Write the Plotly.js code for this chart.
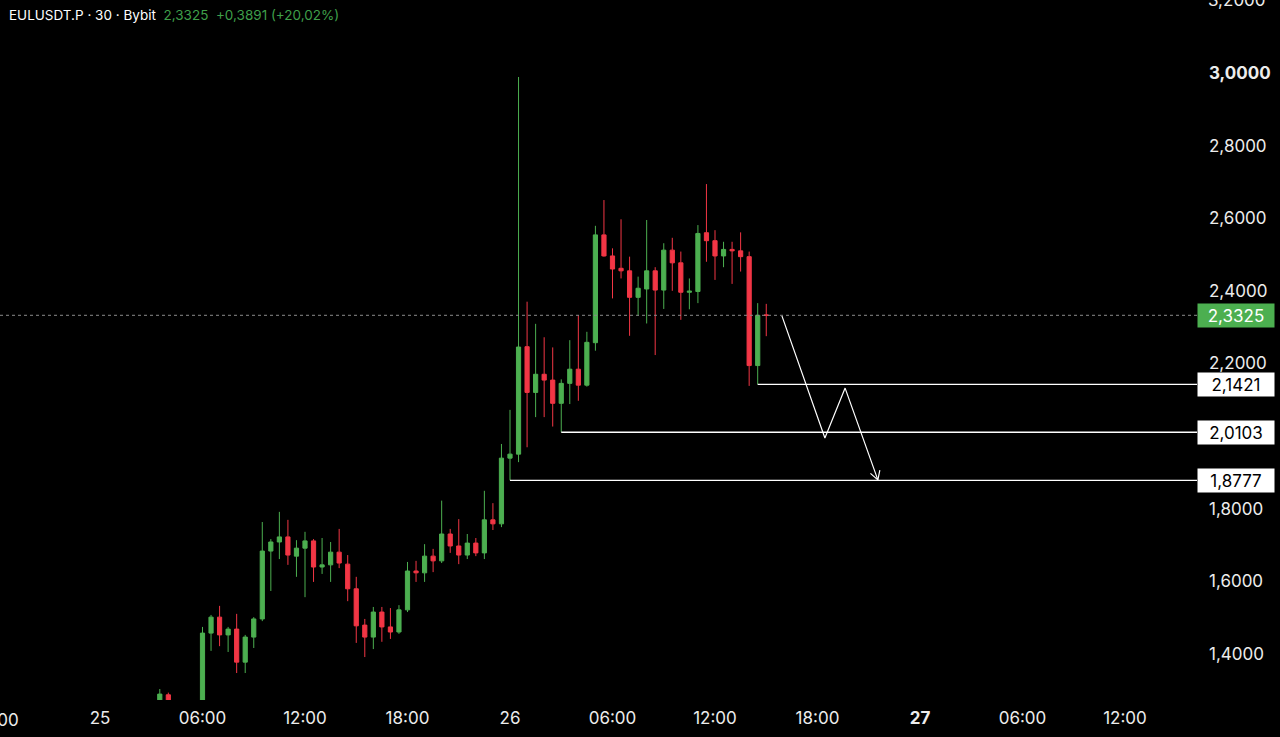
<!DOCTYPE html>
<html>
<head>
<meta charset="utf-8">
<script src="https://cdn.plot.ly/plotly-3.0.1.min.js"></script>
<style>
  html, body { margin: 0; padding: 0; background: #000; }
  #chart { width: 1280px; height: 737px; }
</style>
</head>
<body>
<div id="chart"></div>
<script>
// ---- Candle data (30-minute, EULUSDT.P on Bybit) ----
const candleTimes = [
  '2025-05-25 03:30','2025-05-25 04:00',
  '2025-05-25 06:00','2025-05-25 06:30','2025-05-25 07:00','2025-05-25 07:30','2025-05-25 08:00','2025-05-25 08:30',
  '2025-05-25 09:00','2025-05-25 09:30','2025-05-25 10:00','2025-05-25 10:30','2025-05-25 11:00','2025-05-25 11:30',
  '2025-05-25 12:00','2025-05-25 12:30','2025-05-25 13:00','2025-05-25 13:30','2025-05-25 14:00','2025-05-25 14:30',
  '2025-05-25 15:00','2025-05-25 15:30','2025-05-25 16:00','2025-05-25 16:30','2025-05-25 17:00','2025-05-25 17:30',
  '2025-05-25 18:00','2025-05-25 18:30','2025-05-25 19:00','2025-05-25 19:30','2025-05-25 20:00','2025-05-25 20:30',
  '2025-05-25 21:00','2025-05-25 21:30','2025-05-25 22:00','2025-05-25 22:30','2025-05-25 23:00','2025-05-25 23:30',
  '2025-05-26 00:00','2025-05-26 00:30','2025-05-26 01:00','2025-05-26 01:30','2025-05-26 02:00','2025-05-26 02:30',
  '2025-05-26 03:00','2025-05-26 03:30','2025-05-26 04:00','2025-05-26 04:30','2025-05-26 05:00','2025-05-26 05:30',
  '2025-05-26 06:00','2025-05-26 06:30','2025-05-26 07:00','2025-05-26 07:30','2025-05-26 08:00','2025-05-26 08:30',
  '2025-05-26 09:00','2025-05-26 09:30','2025-05-26 10:00','2025-05-26 10:30','2025-05-26 11:00','2025-05-26 11:30',
  '2025-05-26 12:00','2025-05-26 12:30','2025-05-26 13:00','2025-05-26 13:30','2025-05-26 14:00','2025-05-26 14:30',
  '2025-05-26 15:00'
];
const openPrices = [
  1.262,1.287,
  1.250,1.457,1.501,1.452,1.468,1.377,
  1.446,1.496,1.683,1.708,1.722,1.669,
  1.691,1.711,1.639,1.645,1.680,1.647,
  1.579,1.479,1.446,1.515,1.474,1.460,
  1.521,1.628,1.623,1.669,1.656,1.730,
  1.697,1.672,1.705,1.678,1.769,1.758,
  1.939,1.950,2.246,2.120,2.170,2.154,
  2.090,2.145,2.184,2.140,2.257,2.554,
  2.496,2.462,2.455,2.382,2.405,2.455,
  2.402,2.512,2.477,2.396,2.398,2.560,
  2.538,2.496,2.514,2.510,2.494,2.194,
  2.3335
];
const highPrices = [
  1.303,1.293,
  1.474,1.507,1.532,1.474,1.510,1.452,
  1.501,1.763,1.716,1.791,1.769,1.713,
  1.736,1.716,1.719,1.708,1.744,1.672,
  1.612,1.496,1.529,1.529,1.526,1.534,
  1.653,1.656,1.702,1.689,1.822,1.744,
  1.771,1.730,1.719,1.849,1.815,1.978,
  2.072,2.989,2.370,2.309,2.272,2.244,
  2.156,2.264,2.333,2.287,2.579,2.650,
  2.517,2.597,2.494,2.439,2.595,2.465,
  2.531,2.546,2.508,2.434,2.581,2.694,
  2.567,2.535,2.535,2.561,2.508,2.366,
  2.364
];
const lowPrices = [
  1.240,1.240,
  1.240,1.408,1.421,1.405,1.347,1.347,
  1.416,1.490,1.573,1.661,1.645,1.612,
  1.556,1.598,1.620,1.598,1.636,1.545,
  1.430,1.391,1.413,1.433,1.441,1.455,
  1.515,1.598,1.598,1.625,1.650,1.678,
  1.647,1.661,1.669,1.661,1.741,1.749,
  1.8777,1.928,1.969,2.052,2.052,2.026,
  2.0103,2.088,2.097,2.136,2.235,2.494,
  2.379,2.434,2.276,2.331,2.310,2.223,
  2.350,2.400,2.320,2.349,2.366,2.480,
  2.430,2.465,2.419,2.453,2.138,2.1421,
  2.275
];
const closePrices = [
  1.289,1.260,
  1.457,1.501,1.452,1.468,1.377,1.446,
  1.496,1.683,1.708,1.722,1.672,1.691,
  1.711,1.639,1.645,1.680,1.650,1.579,
  1.477,1.446,1.515,1.474,1.460,1.521,
  1.628,1.623,1.669,1.656,1.730,1.697,
  1.672,1.705,1.678,1.769,1.758,1.939,
  1.950,2.245,2.120,2.170,2.154,2.090,
  2.145,2.184,2.140,2.258,2.554,2.496,
  2.460,2.455,2.382,2.407,2.455,2.402,
  2.512,2.477,2.396,2.399,2.558,2.538,
  2.496,2.514,2.510,2.494,2.194,2.3325,
  2.3325
];

// ---- Horizontal levels drawn on the chart ----
const levelPrices = [2.1421, 2.0103, 1.8777];
const levelLabels = ['2,1421', '2,0103', '1,8777'];
const levelStarts = ['2025-05-26 14:30', '2025-05-26 03:00', '2025-05-26 00:00'];

const lastPrice = 2.3325;
const lastPriceLabel = '2,3325';

// ---- Projected path drawing (zig-zag arrow) ----
const pathTimes  = ['2025-05-26 15:55', '2025-05-26 18:26', '2025-05-26 19:37', '2025-05-26 21:32'];
const pathPrices = [2.331, 1.9945, 2.132, 1.879];
const arrowTimes  = ['2025-05-26 21:06', '2025-05-26 21:32', '2025-05-26 21:39'];
const arrowPrices = [1.897, 1.879, 1.906];

// ---- Axis ticks (2,0000 is hidden behind the 2,0103 label in the reference) ----
const yTickVals = [1.4, 1.6, 1.8, 2.2, 2.4, 2.6, 2.8, 3.0];
const yTickText = ['1,4000','1,6000','1,8000','2,2000','2,4000','2,6000','2,8000','<b>3,0000</b>'];
const topTickVal = 3.2;
const topTickText = '3,2000';
const xTickVals = ['2025-05-25 00:00','2025-05-25 06:00','2025-05-25 12:00','2025-05-25 18:00',
                   '2025-05-26 00:00','2025-05-26 06:00','2025-05-26 12:00','2025-05-26 18:00',
                   '2025-05-27 00:00','2025-05-27 06:00','2025-05-27 12:00'];
const xTickText = ['25','06:00','12:00','18:00','26','06:00','12:00','18:00','<b>27</b>','06:00','12:00'];
const clippedTickTime = '2025-05-24 18:00';
const clippedTickText = '18:00';

const xRange = ['2025-05-24 18:08:47', '2025-05-27 16:12:54'];
const yRange = [1.2727, 3.2011];

const GREEN = '#4caf50';
const RED = '#f23645';
const TXT = '#ececec';
const FONT = 'Inter, "Noto Sans", sans-serif';

const traces = [
  {
    type: 'candlestick',
    x: candleTimes, open: openPrices, high: highPrices, low: lowPrices, close: closePrices,
    increasing: { line: { color: GREEN, width: 1 }, fillcolor: GREEN },
    decreasing: { line: { color: RED, width: 1 }, fillcolor: RED },
    whiskerwidth: 0,
    hoverinfo: 'skip',
    showlegend: false
  },
  {
    type: 'scatter', mode: 'lines', x: pathTimes, y: pathPrices,
    line: { color: '#ffffff', width: 1.2 }, hoverinfo: 'skip', showlegend: false
  },
  {
    type: 'scatter', mode: 'lines', x: arrowTimes, y: arrowPrices,
    line: { color: '#ffffff', width: 1.2 }, hoverinfo: 'skip', showlegend: false
  }
];

const shapes = [
  { type: 'line', xref: 'paper', yref: 'y', x0: 0, x1: 1, y0: lastPrice, y1: lastPrice,
    line: { color: '#8a8a8a', width: 1, dash: 'dot' } }
];
levelPrices.forEach((p, i) => {
  shapes.push({ type: 'line', xref: 'x', yref: 'y', x0: levelStarts[i], x1: xRange[1], y0: p, y1: p,
    line: { color: '#ffffff', width: 1.3 } });
});

const annotations = [
  {
    xref: 'paper', yref: 'paper', x: 0, y: 1, xanchor: 'left', yanchor: 'top', xshift: 7, yshift: -5,
    showarrow: false, align: 'left',
    text: 'EULUSDT.P · 30 · Bybit  <span style="color:#3f9f4a">2,3325  +0,3891 (+20,02%)</span>',
    font: { family: FONT, size: 13.5, color: '#ffffff' }
  },
  {
    xref: 'paper', yref: 'y', x: 1, y: topTickVal, xanchor: 'left', yanchor: 'middle', xshift: 9,
    showarrow: false, text: topTickText, font: { family: FONT, size: 17, color: TXT }
  },
  {
    xref: 'paper', yref: 'y', x: 1, y: lastPrice, xanchor: 'left', yanchor: 'middle', showarrow: false,
    text: lastPriceLabel, bgcolor: GREEN, width: 74, height: 21, borderpad: 1, align: 'center',
    font: { family: FONT, size: 17, color: '#ffffff' }
  }
];
levelPrices.forEach((p, i) => {
  annotations.push({
    xref: 'paper', yref: 'y', x: 1, y: p, xanchor: 'left', yanchor: 'middle', showarrow: false,
    text: levelLabels[i], bgcolor: '#ffffff', width: 74, height: 21, borderpad: 1, align: 'center',
    font: { family: FONT, size: 17, color: '#000000' }
  });
});
// tick label of the 24th 18:00, cut by the left edge
{
  const t0 = new Date(xRange[0].replace(' ', 'T') + 'Z').getTime();
  const t1 = new Date(xRange[1].replace(' ', 'T') + 'Z').getTime();
  const tc = new Date(clippedTickTime.replace(' ', 'T') + ':00Z').getTime();
  annotations.push({
    xref: 'paper', yref: 'paper', x: (tc - t0) / (t1 - t0), y: 0, xanchor: 'center', yanchor: 'top',
    yshift: -8, showarrow: false, text: clippedTickText,
    font: { family: FONT, size: 17, color: TXT }
  });
}

const layout = {
  width: 1280, height: 737,
  paper_bgcolor: '#000000', plot_bgcolor: '#000000',
  margin: { l: 0, r: 83, t: 0, b: 37 },
  showlegend: false,
  font: { family: FONT, color: TXT, size: 17 },
  xaxis: {
    type: 'date', range: xRange, showgrid: false, zeroline: false, showline: false,
    tickvals: xTickVals, ticktext: xTickText, ticks: '', ticklabelstandoff: 6,
    rangeslider: { visible: false }, fixedrange: true,
    tickfont: { family: FONT, size: 17, color: TXT }
  },
  yaxis: {
    side: 'right', range: yRange, showgrid: false, zeroline: false, showline: false,
    tickvals: yTickVals, ticktext: yTickText, ticks: '', ticklabelstandoff: 11,
    tickfont: { family: FONT, size: 17, color: TXT }, fixedrange: true
  },
  shapes: shapes,
  annotations: annotations
};

Plotly.newPlot('chart', traces, layout, { staticPlot: true, displayModeBar: false });
</script>
</body>
</html>
